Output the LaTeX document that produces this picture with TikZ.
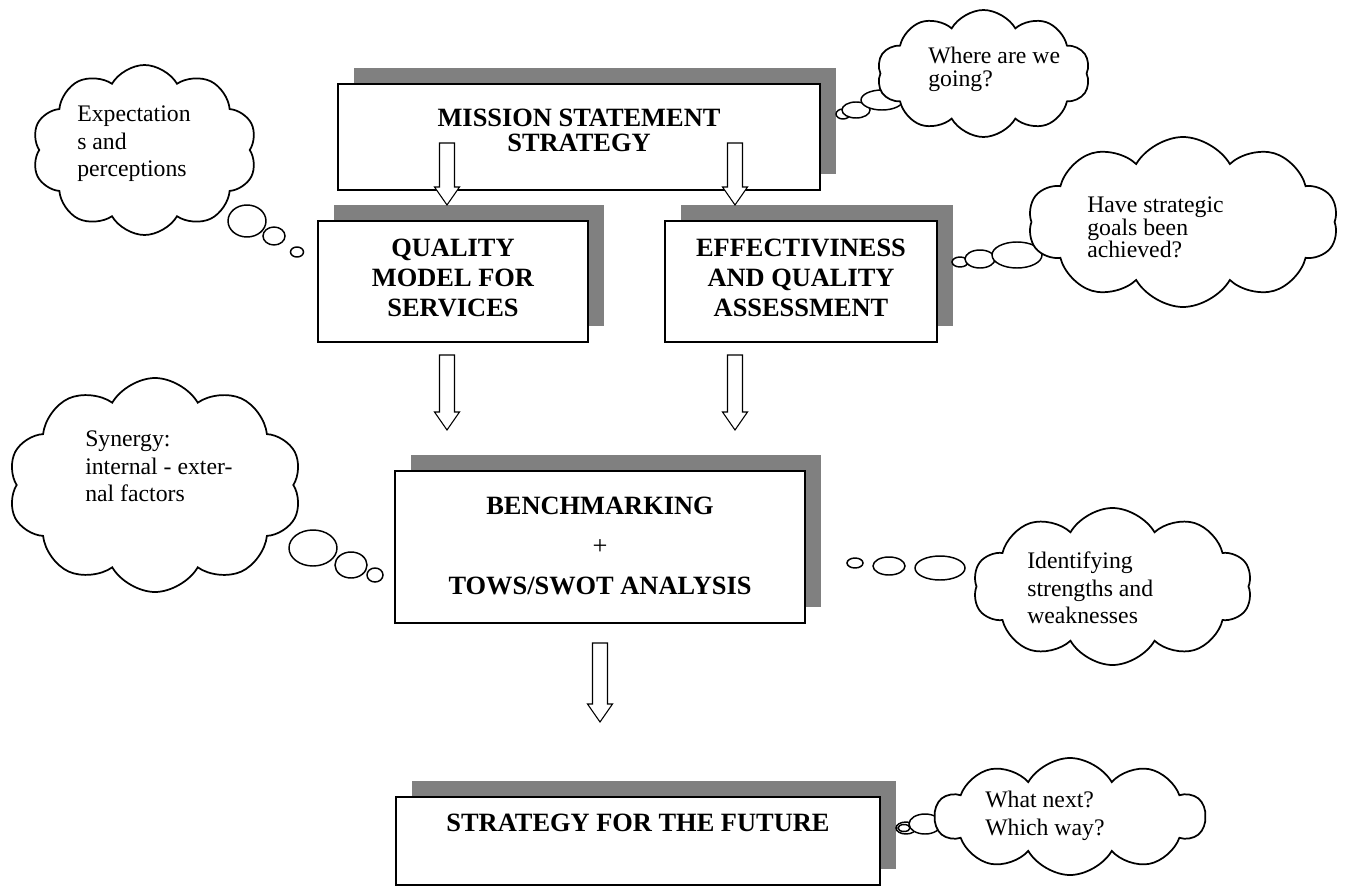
\documentclass[tikz,border=0pt]{standalone}
\usepackage{fontspec}
\setmainfont{Liberation Serif}
\usetikzlibrary{positioning,shapes.symbols,shadows}
\definecolor{shadowgray}{HTML}{808080}
\tikzset{
  box/.style={draw, line width=1.4pt, fill=white, inner sep=0pt,
    drop shadow={shadow xshift=12.3pt, shadow yshift=12.3pt, fill=shadowgray, opacity=1}},
  boxtext/.style={inner sep=0pt, align=center, font=\fontsize{19.8pt}{22.5pt}\selectfont\bfseries},
  thought/.style={cloud, draw, line width=1.3pt, fill=white, cloud puffs=10,
    cloud puff arc=120, cloud ignores aspect, inner sep=0pt},
  thoughttext/.style={inner sep=0pt, anchor=north west, align=left,
    font=\fontsize{17.8pt}{20.6pt}\selectfont},
  bubble/.style={draw, line width=1.1pt, fill=white},
  blockarrow/.style={draw, line width=0.8pt, fill=white}
}

\begin{document}
\begin{tikzpicture}[x=0.75pt, y=-0.75pt]
  \useasboundingbox (0,0) rectangle (1348,888);

  % boxes
  \node[box, minimum width=361.5pt, minimum height=79.5pt] (mission) at (579,137) {};
  \node[box, minimum width=202.5pt, minimum height=90.75pt] (quality) at (453,281.5) {};
  \node[box, minimum width=204pt, minimum height=90.75pt] (effect) at (801,281.5) {};
  \node[box, minimum width=307.5pt, minimum height=114pt] (bench) at (600,547) {};
  \node[box, minimum width=363pt, minimum height=66pt] (future) at (638,841) {};

  \node[boxtext, font=\fontsize{19.8pt}{19pt}\selectfont\bfseries, below=19pt of mission.north] (missiontext) {MISSION STATEMENT\\STRATEGY};
  \node[boxtext, below=13.9pt of quality.north] (qualitytext) {QUALITY\\MODEL FOR\\SERVICES};
  \node[boxtext, below=13.9pt of effect.north] (effecttext) {EFFECTIVINESS\\AND QUALITY\\ASSESSMENT};
  \node[boxtext, font=\fontsize{19.8pt}{30pt}\selectfont\bfseries, below=19.9pt of bench.north] (benchtext) {BENCHMARKING\\{\mdseries+}\\TOWS/SWOT ANALYSIS};
  \node[boxtext, below=13pt of future.north] (futuretext) {STRATEGY FOR THE FUTURE};

  % block arrows
  \foreach \ax/\ya/\yb in {447/143/205, 735/143/205, 447/355/430, 735/355/430, 600/643/722}
    \draw[blockarrow] (\ax-7.5,\ya) -- (\ax+7.5,\ya) -- (\ax+7.5,\yb-18) -- (\ax+12.5,\yb-18)
      -- (\ax,\yb) -- (\ax-12.5,\yb-18) -- (\ax-7.5,\yb-18) -- cycle;

  % small bubbles of the thoughts
  \foreach \bx/\by/\rx/\ry in {247/221/19/16, 274/236/11/9, 297/252/6.5/5,
      843/114/7/5, 856/110/14/8, 882/100/21/10,
      960/262/8/5, 980/259/15/9, 1017/255/25/13,
      313/548/24/18, 351/565/16/13, 375/575/8/7,
      855/563/8/5, 889/566/16/9, 940/568/25/12,
      906/828/10/6, 904/828/6/3.5, 925/824/16/10}
    \draw[bubble] (\bx,\by) ellipse [x radius=\rx, y radius=\ry];

  % thoughts
  \node[thought, minimum width=168.75pt, minimum height=127.5pt] (expect) at (144.5,150) {};
  \node[thought, minimum width=159.75pt, minimum height=95.25pt] (where) at (983.5,73.5) {};
  \node[thought, minimum width=232.5pt, minimum height=127.5pt] (achieved) at (1183,222) {};
  \node[thought, minimum width=220.5pt, minimum height=160.5pt] (synergy) at (155,485) {};
  \node[thought, minimum width=209.25pt, minimum height=117.75pt] (identify) at (1112.5,586.5) {};
  \node[thought, minimum width=202.5pt, minimum height=87.75pt] (whatnext) at (1070,816.5) {};

  \node[thoughttext] (expecttext) at (77,106) {Expectation\\s and\\perceptions};
  \node[thoughttext, font=\fontsize{17.8pt}{16.8pt}\selectfont] (wheretext) at (928,47) {Where are we\\going?};
  \node[thoughttext, font=\fontsize{17.8pt}{16.8pt}\selectfont] (achievedtext) at (1087,197) {Have strategic\\goals been\\achieved?};
  \node[thoughttext] (synergytext) at (85,431) {Synergy:\\internal - exter-\\nal factors};
  \node[thoughttext] (identifytext) at (1027,552) {Identifying\\strengths and\\weaknesses};
  \node[thoughttext] (whatnexttext) at (985,791) {What next?\\Which way?};
\end{tikzpicture}
\end{document}
